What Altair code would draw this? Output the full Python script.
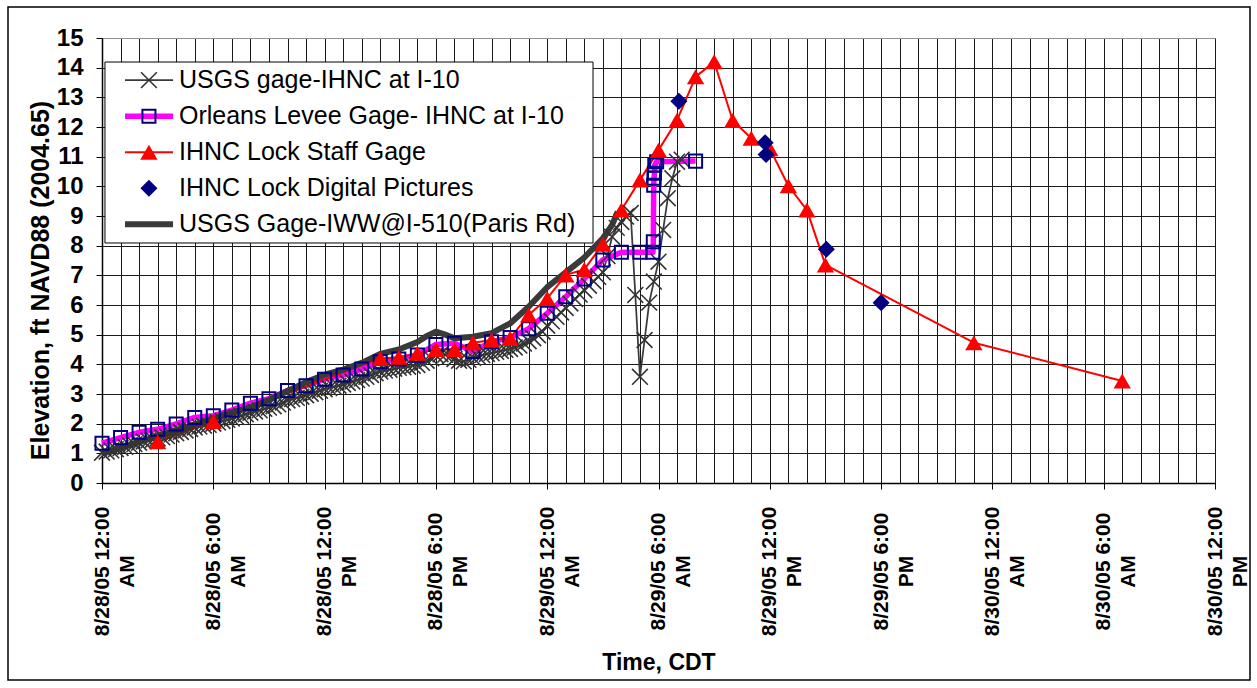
import json
import altair as alt
import pandas as pd

# ---------------- data (hours after 8/28/05 12:00 AM CDT, elevation ft NAVD88) ----------------
# USGS gage-IHNC at I-10 : 15-minute readings starting at hour 0
ihnc_i10_start = 0.0
ihnc_i10_step = 0.25
ihnc_i10_values = [
    1.02, 1.06, 1.10, 1.14,
    1.18, 1.22, 1.27, 1.31,
    1.36, 1.40, 1.43, 1.46,
    1.50, 1.54, 1.58, 1.63,
    1.68, 1.72, 1.77, 1.82,
    1.87, 1.90, 1.93, 1.96,
    2.00, 2.04, 2.09, 2.13,
    2.17, 2.22, 2.27, 2.32,
    2.37, 2.41, 2.45, 2.50,
    2.54, 2.59, 2.65, 2.71,
    2.78, 2.83, 2.87, 2.91,
    2.96, 3.01, 3.06, 3.11,
    3.16, 3.20, 3.24, 3.28,
    3.32, 3.37, 3.42, 3.47,
    3.52, 3.58, 3.64, 3.70,
    3.76, 3.79, 3.82, 3.85,
    3.88, 3.90, 3.92, 3.95,
    3.98, 4.05, 4.12, 4.20,
    4.30, 4.34, 4.32, 4.26,
    4.18, 4.12, 4.10, 4.15,
    4.22, 4.27, 4.31, 4.35,
    4.38, 4.42, 4.45, 4.49,
    4.52, 4.57, 4.63, 4.70,
    4.78, 4.88, 4.98, 5.10,
    5.30, 5.45, 5.60, 5.75,
    5.90, 6.05, 6.20, 6.35,
    6.50, 6.65, 6.80, 6.95,
    7.10, 7.65, 8.30, 8.60,
    8.80, 8.98, 9.10, 6.34,
    3.58, 4.82, 6.08, 6.79,
    7.46, 8.53, 9.60, 10.27,
    10.83, 10.90,
]
ihnc_i10_hours = [ihnc_i10_start + i * ihnc_i10_step for i in range(len(ihnc_i10_values))]

# Orleans Levee Gage - IHNC at I-10
orleans_hours = [0, 1, 2, 3, 4, 5, 6, 7, 8, 9, 10, 11, 12, 13, 14, 15, 16, 17, 18, 19,
                 20, 21, 22, 23, 24, 25, 26, 27, 28, 29,
                 29.70, 29.72, 29.74, 29.76, 29.78, 29.80, 29.90, 32.0]
orleans_values = [1.34, 1.53, 1.71, 1.81, 1.99, 2.21, 2.27, 2.46, 2.69, 2.84,
                  3.12, 3.28, 3.50, 3.64, 3.84, 4.09, 4.18, 4.31, 4.67, 4.71,
                  4.43, 4.76, 4.90, 5.20, 5.72, 6.28, 6.88, 7.52, 7.78, 7.78,
                  7.78, 8.13, 10.04, 10.27, 10.44, 10.72, 10.83, 10.85]

# IHNC Lock Staff Gage
staff_hours = [3, 6, 15, 16, 17, 18, 19, 20, 21, 22, 23, 24, 25, 26, 27, 28, 29, 30,
               31, 32, 33, 34, 35, 36, 37, 38, 39, 47, 55]
staff_values = [1.39, 2.07, 4.20, 4.24, 4.37, 4.50, 4.50, 4.73, 4.82, 4.88, 5.66, 6.22,
                7.01, 7.20, 8.05, 9.20, 10.21, 11.22, 12.23, 13.69, 14.20, 12.22, 11.62,
                11.27, 10.02, 9.20, 7.35, 4.73, 3.44]

# IHNC Lock Digital Pictures
photo_hours = [31.10, 35.75, 35.80, 39.05, 42.00]
photo_values = [12.87, 11.47, 11.07, 7.88, 6.08]

# USGS Gage-IWW@I-510 (Paris Rd)
paris_hours = [0, 1, 2, 3, 4, 5, 6, 7, 8, 9, 10, 11, 12, 13, 14, 15, 16, 17, 17.5, 18,
               18.5, 19, 20, 21, 22, 23, 24, 25, 26, 27, 27.5, 27.8]
paris_values = [1.00, 1.18, 1.38, 1.58, 1.78, 1.98, 2.18, 2.38, 2.55, 2.80, 3.10, 3.40,
                3.65, 3.82, 4.05, 4.35, 4.50, 4.75, 4.95, 5.10, 5.00, 4.88, 4.93, 5.05,
                5.38, 5.94, 6.60, 7.10, 7.60, 8.25, 8.70, 9.15]

series_names = [
    "USGS gage-IHNC at I-10",
    "Orleans Levee Gage- IHNC at I-10",
    "IHNC Lock Staff Gage",
    "IHNC Lock Digital Pictures",
    "USGS Gage-IWW@I-510(Paris Rd)",
]

tick_hours = [0, 6, 12, 18, 24, 30, 36, 42, 48, 54, 60]
tick_labels = [
    ["8/28/05 12:00", "AM"], ["8/28/05 6:00", "AM"], ["8/28/05 12:00", "PM"],
    ["8/28/05 6:00", "PM"], ["8/29/05 12:00", "AM"], ["8/29/05 6:00", "AM"],
    ["8/29/05 12:00", "PM"], ["8/29/05 6:00", "PM"], ["8/30/05 12:00", "AM"],
    ["8/30/05 6:00", "AM"], ["8/30/05 12:00", "PM"],
]
y_ticks = list(range(0, 16))

# ---------------- styling / layout ----------------
FONT = "Liberation Sans"
W, H = 1113, 445
NAVY = "#000080"
MAGENTA = "#FF00FF"
RED = "#FF0000"
DARK = "#3a3a3a"
XPATH = "M-1,-1L1,1M-1,1L1,-1"

x_scale = alt.Scale(domain=[0, 60], nice=False, zero=False)
y_scale = alt.Scale(domain=[0, 15], nice=False, zero=False)

is_major = "indexof(" + json.dumps(tick_hours) + ", datum.value) >= 0"
label_expr = (
    is_major + " ? " + json.dumps(tick_labels)
    + "[indexof(" + json.dumps(tick_hours) + ", datum.value)] : ''"
)

x_axis = alt.Axis(
    values=list(range(0, 61)),
    labelExpr=label_expr,
    labelAngle=270,
    labelAlign="center",
    labelBaseline="middle",
    labelFont=FONT, labelFontWeight="bold", labelFontSize=21, labelLineHeight=25,
    labelColor="black", labelPadding=82, labelOverlap=False, labelFlush=False,
    tickSize=6, tickWidth=1,
    tickColor={"condition": {"test": is_major, "value": "black"}, "value": "transparent"},
    domainColor="black", domainWidth=1.5,
    grid=True, gridColor="#1a1a1a", gridWidth=1,
    title="Time, CDT", titleFont=FONT, titleFontSize=23, titleFontWeight="bold",
    titleColor="black", titleBaseline="middle", titleY=179,
)
y_axis = alt.Axis(
    values=y_ticks,
    labelFont=FONT, labelFontWeight="bold", labelFontSize=24, labelColor="black",
    labelPadding=13, tickSize=6, tickColor="black", tickWidth=1,
    domainColor="black", domainWidth=1.5,
    grid=True,
    gridColor={"condition": {"test": "datum.value === 15", "value": "#909090"}, "value": "#1a1a1a"},
    gridWidth=1,
    title="Elevation, ft NAVD88 (2004.65)", titleFont=FONT, titleFontSize=25,
    titleFontWeight="bold", titleColor="black", titleAngle=270, titleAlign="center",
    titleBaseline="middle", titleX=-62, titleY=242,
)

X_ENC = alt.X("h:Q", scale=x_scale, axis=x_axis)
Y_ENC = alt.Y("v:Q", scale=y_scale, axis=y_axis)


def frame(hours, values):
    return pd.DataFrame({"h": hours, "v": values})


df_ihnc = frame(ihnc_i10_hours, ihnc_i10_values)
df_orl = frame(orleans_hours, orleans_values)
df_staff = frame(staff_hours, staff_values)
df_photo = frame(photo_hours, photo_values)
df_paris = frame(paris_hours, paris_values)

styles = [
    dict(line=(DARK, 1.75), point=dict(shape=XPATH, size=250, filled=False, color="#333333", strokeWidth=1.6)),
    dict(line=(MAGENTA, 5.5), point=dict(shape="square", size=170, filled=False, color=NAVY, strokeWidth=2)),
    dict(line=(RED, 2), point=dict(shape="triangle-up", size=300, filled=True, color=RED, strokeWidth=0)),
    dict(line=None, point=dict(shape="diamond", size=290, filled=True, color=NAVY, strokeWidth=0)),
    dict(line=(DARK, 6), point=None),
]
frames = [df_ihnc, df_orl, df_staff, df_photo, df_paris]


def line_layer(df, style):
    color, width = style
    return alt.Chart(df).mark_line(color=color, strokeWidth=width, strokeJoin="round",
                                   strokeCap="butt").encode(x=X_ENC, y=Y_ENC)


def point_layer(df, p):
    return alt.Chart(df).mark_point(opacity=1, **p).encode(x=X_ENC, y=Y_ENC)


layers = []
# lines first (series order), then markers
for df, st in zip(frames, styles):
    if st["line"]:
        layers.append(line_layer(df, st["line"]))
for df, st in zip(frames, styles):
    if st["point"]:
        layers.append(point_layer(df, st["point"]))

# ---------------- legend (drawn in data units, inside the plot) ----------------
leg_box = pd.DataFrame({"h": [0.16], "h2": [26.47], "v": [8.09], "v2": [14.19]})
layers.append(
    alt.Chart(leg_box).mark_rect(fill="white", stroke="black", strokeWidth=1).encode(
        x=X_ENC, x2="h2:Q", y=Y_ENC, y2="v2:Q",
    )
)
leg_top, leg_step = 13.58, 1.215
leg_rows = [leg_top - i * leg_step for i in range(len(series_names))]
for i, st in enumerate(styles):
    if st["line"]:
        layers.append(line_layer(frame([1.24, 3.83], [leg_rows[i]] * 2), st["line"]))
for i, st in enumerate(styles):
    if st["point"]:
        layers.append(point_layer(frame([2.53], [leg_rows[i]]), st["point"]))
leg_text = pd.DataFrame({"h": [4.15] * len(series_names), "v": leg_rows, "name": series_names})
layers.append(
    alt.Chart(leg_text).mark_text(align="left", baseline="middle", font=FONT, fontSize=25,
                                  color="black").encode(x=X_ENC, y=Y_ENC, text="name:N")
)

# outer chart border
layers.append(
    alt.Chart(pd.DataFrame({"a": [0]})).mark_rect(fillOpacity=0, stroke="black", strokeWidth=1.5).encode(
        x=alt.value(-94), x2=alt.value(1148), y=alt.value(-31), y2=alt.value(642)
    )
)

chart = (
    alt.layer(*layers)
    .properties(width=W, height=H, background="white",
                padding={"left": 102, "top": 38, "right": 42, "bottom": 205},
                autosize=alt.AutoSizeParams(type="none"))
    .configure_view(stroke="#808080", strokeWidth=1)
)

chart.save("out.html", embed_options={"renderer": "svg", "actions": False})
